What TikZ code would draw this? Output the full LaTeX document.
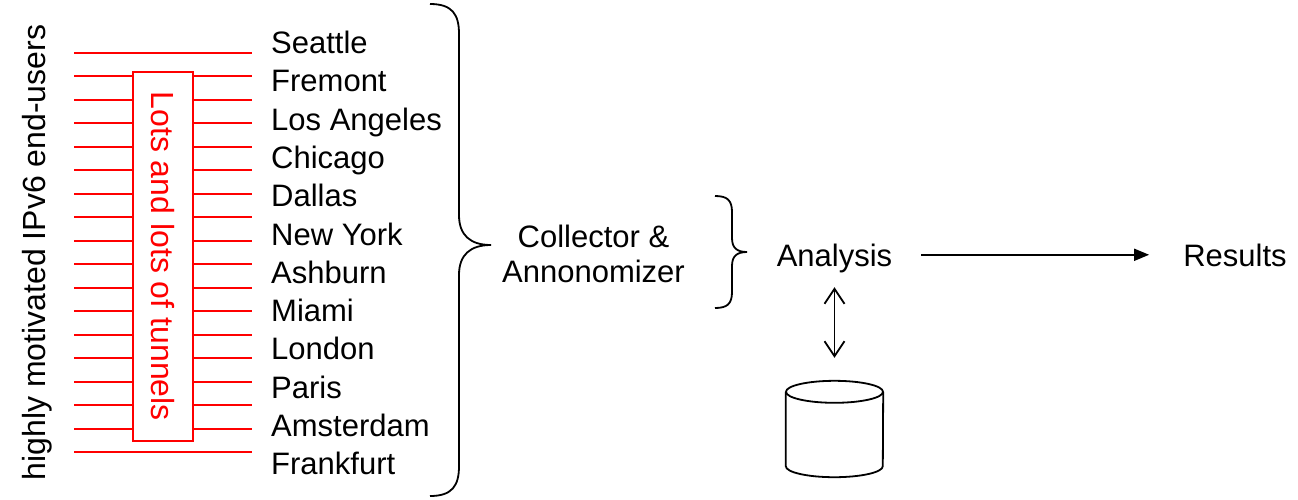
\documentclass[tikz,border=0pt]{standalone}
\usepackage{fontspec}
\setmainfont{Liberation Sans}
\usetikzlibrary{arrows.meta}
\begin{document}
\begin{tikzpicture}[x=1pt,y=-1pt,
  every node/.style={inner sep=0pt, font=\fontsize{31}{35}\selectfont},
  bigtext/.style={font=\fontsize{32}{36}\selectfont},
  city/.style={anchor=base west},
  redline/.style={draw=red, line width=2pt},
  blk/.style={draw=black, line width=1.8pt},
  word/.style={anchor=base, text depth=0pt}]
\useasboundingbox (0,0) rectangle (1298,499);

% red tunnel lines
\foreach \i in {0,17}{
  \coordinate (fl\i) at (74,{52.7+\i*23.5});
  \coordinate (fr\i) at (252,{52.7+\i*23.5});
  \draw[redline] (fl\i) -- (fr\i);
}
\foreach \i in {1,...,16}{
  \coordinate (ll\i) at (74,{52.7+\i*23.5});
  \coordinate (lr\i) at (133,{52.7+\i*23.5});
  \coordinate (rl\i) at (193,{52.7+\i*23.5});
  \coordinate (rr\i) at (252,{52.7+\i*23.5});
  \draw[redline] (ll\i) -- (lr\i);
  \draw[redline] (rl\i) -- (rr\i);
}
\node (tunnels) [bigtext, rotate=-90, draw=red, fill=white, line width=2pt, text=red,
  minimum width=369pt, minimum height=60pt] at (163,256.2) {Lots and lots of tunnels};

% left vertical label
\node (users) [bigtext, rotate=90, anchor=base] at (45,252.5) {highly motivated IPv6 end-users};

% cities
\node (c1) [city] at (271,53.5) {Seattle};
\node (c2) [city] at (271,91.8) {Fremont};
\node (c3) [city] at (271,130.1) {Los Angeles};
\node (c4) [city] at (271,168.4) {Chicago};
\node (c5) [city] at (271,206.7) {Dallas};
\node (c6) [city] at (271,245) {New York};
\node (c7) [city] at (271,283.3) {Ashburn};
\node (c8) [city] at (271,321.6) {Miami};
\node (c9) [city] at (271,359.9) {London};
\node (c10) [city] at (271,398.2) {Paris};
\node (c11) [city] at (271,436.5) {Amsterdam};
\node (c12) [city] at (271,474.8) {Frankfurt};

% big brace
\draw[blk] (430,4) .. controls (452,4) and (459,14) .. (459,34) -- (459,215)
  .. controls (459,235) and (470,245) .. (491,245)
  .. controls (470,245) and (459,255) .. (459,275) -- (459,466)
  .. controls (459,486) and (452,496) .. (430,496);

\node (collector) [align=center] at (593.5,254) {Collector \&\\Annonomizer};

% small brace
\draw[blk] (715,196) .. controls (727,196) and (732,200) .. (732,212) -- (732,238)
  .. controls (732,248) and (737,252) .. (747,252)
  .. controls (737,252) and (732,256) .. (732,266) -- (732,292)
  .. controls (732,304) and (727,308) .. (715,308);

\node (analysis) [word] at (834.5,266) {Analysis};
\node (results) [word] at (1235,266) {Results};

\draw[blk, -{Triangle[length=15pt,width=12pt]}, shorten <=29pt, shorten >=34pt]
  (analysis.east) -- (results.west);

% database cylinder
\node (db) [minimum width=97pt, minimum height=96pt] at (834.5,429) {};
\draw[blk] ([yshift=-11pt]db.north west) -- ([yshift=11pt]db.south west)
  arc[start angle=180, end angle=360, x radius=48.5pt, y radius=11pt]
  -- ([yshift=-11pt]db.north east);
\draw[blk] ([yshift=-11pt]db.north) ellipse[x radius=48.5pt, y radius=11pt];

\draw[blk, {Straight Barb[length=15pt,width=20pt]}-{Straight Barb[length=15pt,width=20pt]},
  shorten <=21pt, shorten >=23pt] (analysis.south) -- (db.north);
\end{tikzpicture}
\end{document}
